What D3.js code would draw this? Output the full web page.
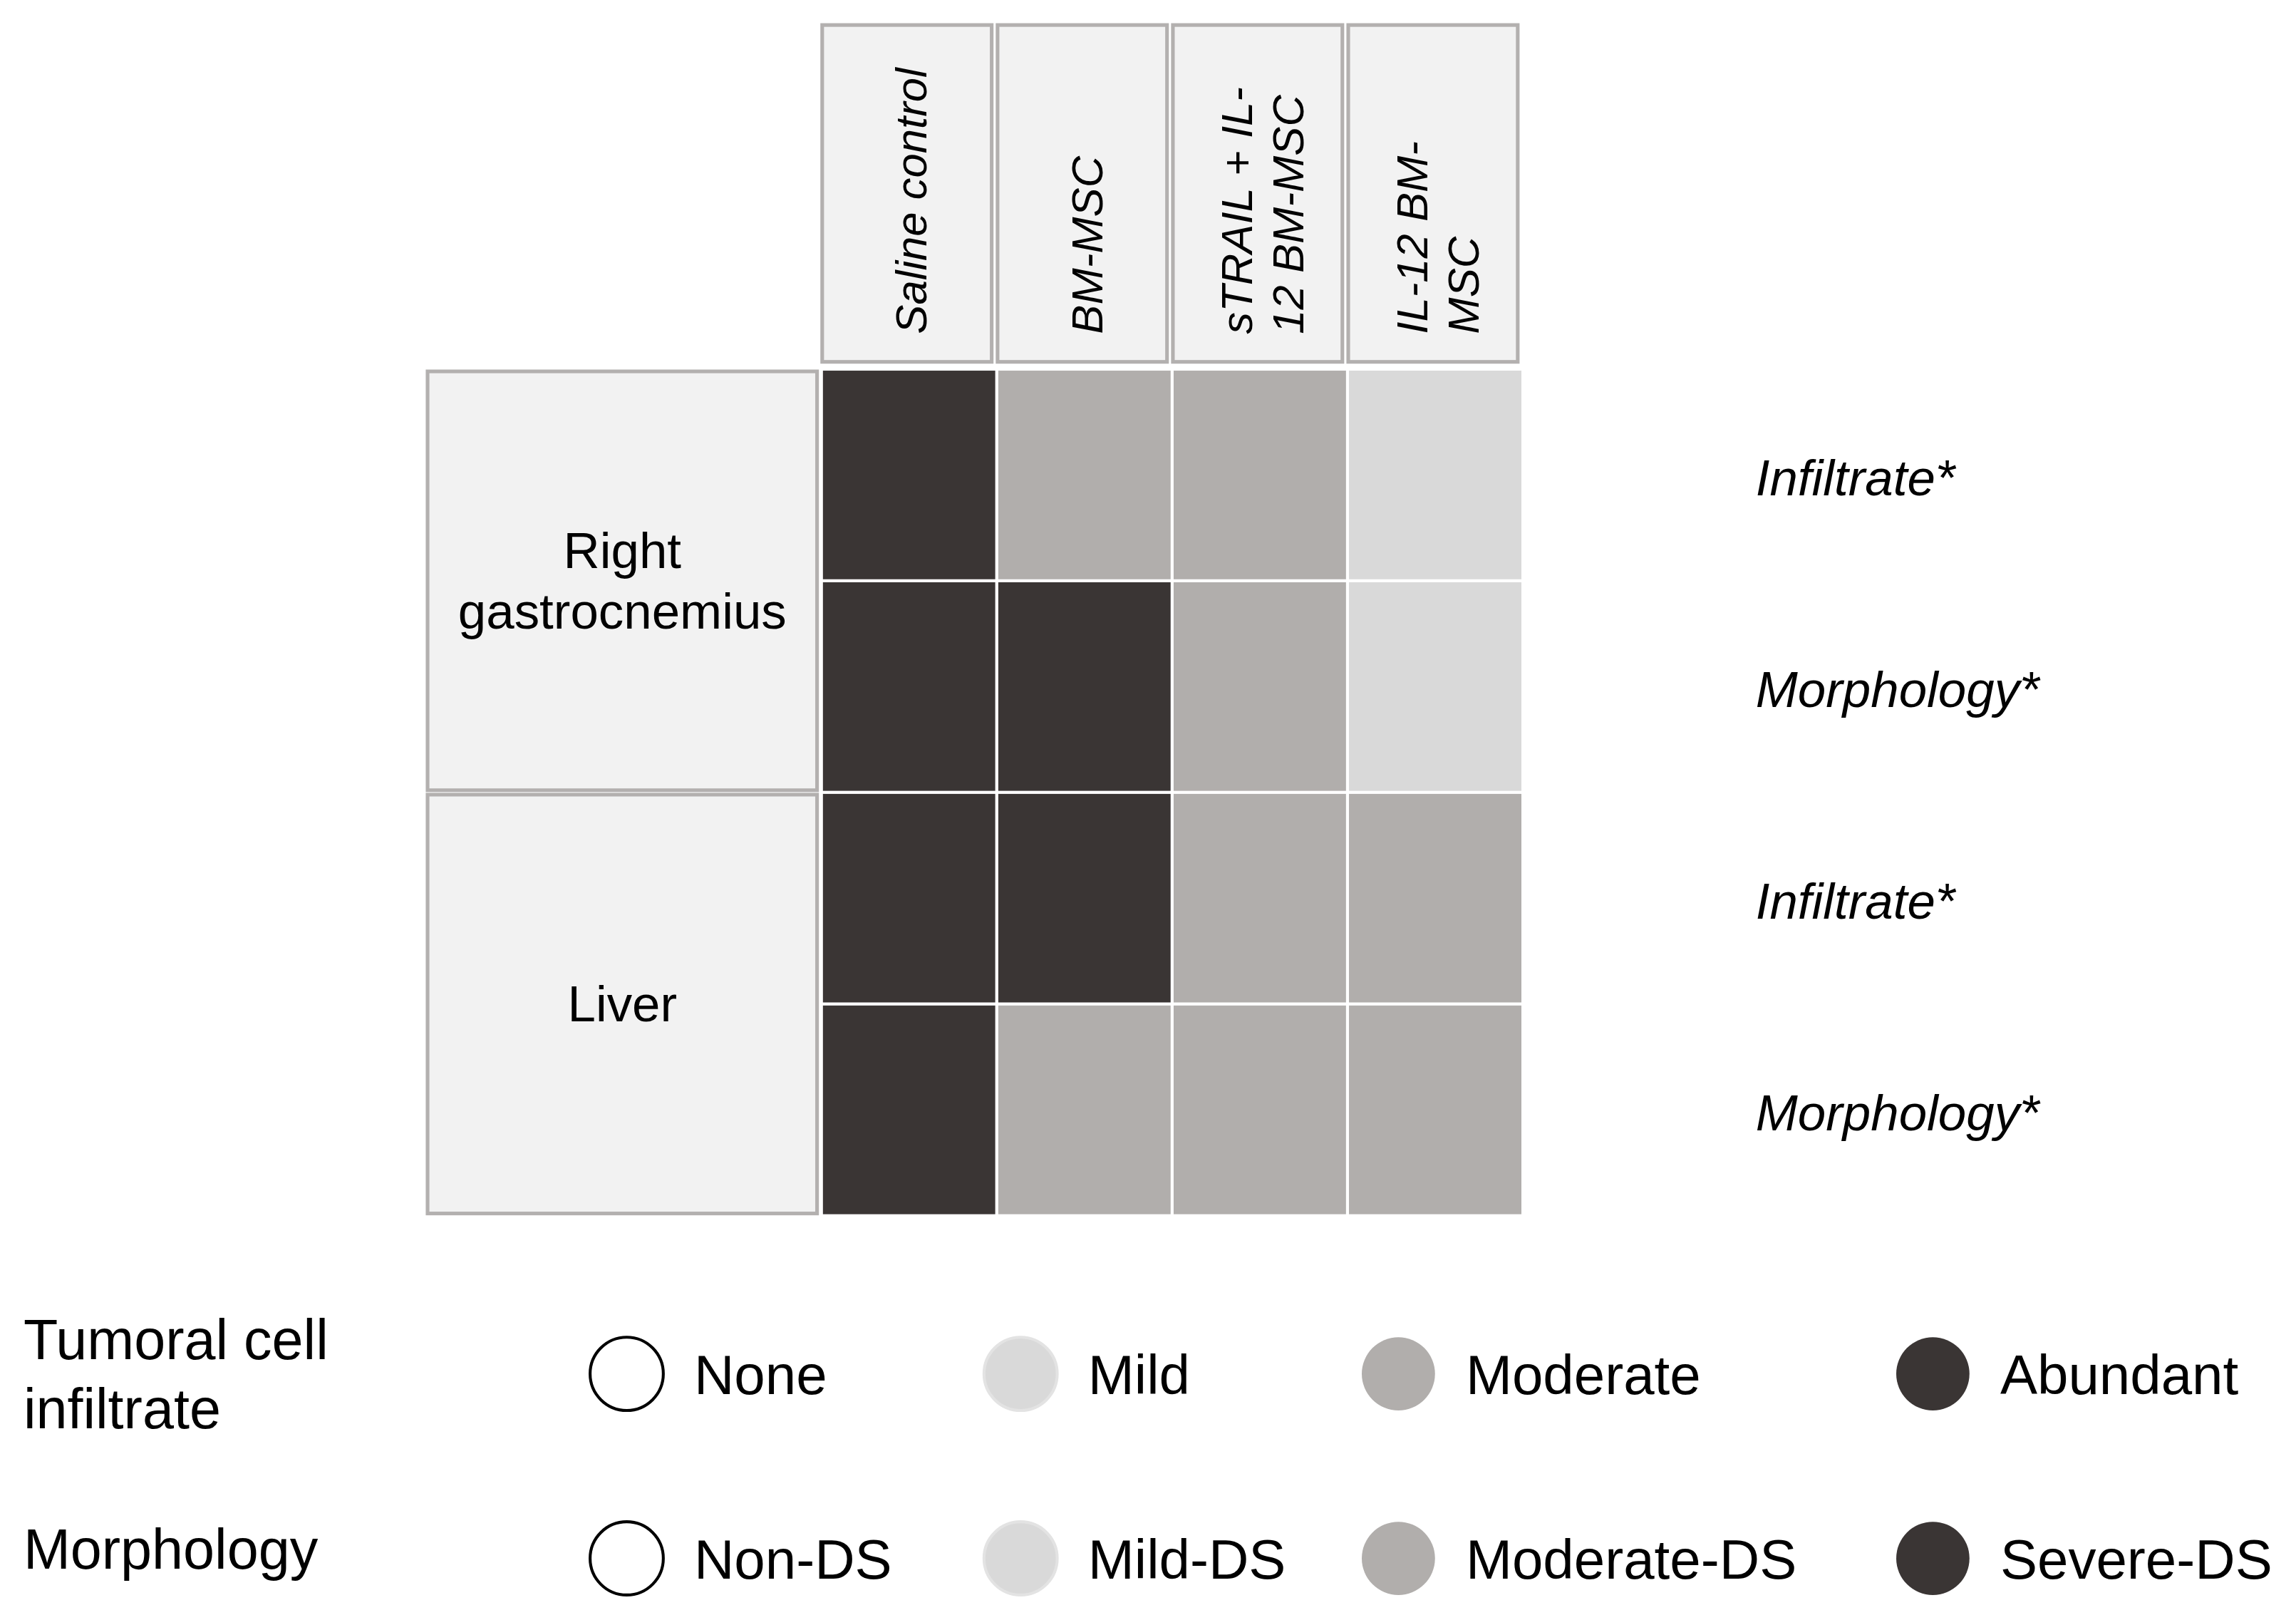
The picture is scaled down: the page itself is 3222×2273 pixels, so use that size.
<!DOCTYPE html>
<html>
<head>
<meta charset="utf-8">
<script src="https://cdn.jsdelivr.net/npm/d3@7"></script>
<style>
  body { margin: 0; background: #fff; }
  text { font-family: "Liberation Sans", Arial, sans-serif; fill: #000; }
</style>
</head>
<body>
<svg id="chart"></svg>
<script>
// groups (columns) and their header lines
var groups = ["Saline control", "BM-MSC", "sTRAIL + IL-12 BM-MSC", "IL-12 BM-MSC"];
var groupLines = [["Saline control"], ["BM-MSC"], ["sTRAIL + IL-", "12 BM-MSC"], ["IL-12 BM-", "MSC"]];

// tissues, each spans two rows
var tissues = ["Right gastrocnemius", "Liver"];
var tissueLines = [["Right", "gastrocnemius"], ["Liver"]];

// rows of the grid
var rowIds = ["rg_inf", "rg_mor", "lv_inf", "lv_mor"];
var rowLabels = ["Infiltrate*", "Morphology*", "Infiltrate*", "Morphology*"];

// score per row, per group (0 none .. 3 abundant / severe)
var rgInfiltrate = [3, 2, 2, 1];
var rgMorphology = [3, 3, 2, 1];
var liverInfiltrate = [3, 3, 2, 2];
var liverMorphology = [3, 2, 2, 2];

// legend
var levels = [0, 1, 2, 3];
var infiltrateLevels = ["None", "Mild", "Moderate", "Abundant"];
var morphologyLevels = ["Non-DS", "Mild-DS", "Moderate-DS", "Severe-DS"];

var scores = [rgInfiltrate, rgMorphology, liverInfiltrate, liverMorphology];

var W = 1568, H = 1106;
var svg = d3.select("#chart")
    .attr("width", 3222)
    .attr("height", 2273)
    .attr("viewBox", "0 0 " + W + " " + H);

var color = d3.scaleOrdinal()
    .domain(levels)
    .range(["#ffffff", "#d9d9d9", "#b1aeac", "#3a3534"]);

var x = d3.scaleBand().domain(groups).range([561, 1040]);
var y = d3.scaleBand().domain(rowIds).range([252, 830]);

// header boxes
var head = svg.append("g");
head.selectAll("rect")
    .data(groups)
    .enter().append("rect")
    .attr("x", function(d) { return x(d) + 0.5; })
    .attr("y", 17)
    .attr("width", x.bandwidth() - 4)
    .attr("height", 230)
    .style("fill", "#f2f2f2")
    .style("stroke", "#b3b0af")
    .style("stroke-width", 2.5);

groups.forEach(function(g, i) {
    var lines = groupLines[i];
    var cx = x(g) + x.bandwidth() / 2;
    var t = head.append("text")
        .attr("transform", "translate(" + cx + ",228) rotate(-90)")
        .style("font-size", "30px")
        .style("font-style", "italic");
    lines.forEach(function(l, j) {
        // baseline offset so the block sits centred in the column
        var off = 12 + (j - (lines.length - 1) / 2) * 35;
        t.append("tspan")
            .attr("x", 0)
            .attr("y", off)
            .text(l);
    });
});

// tissue boxes
var side = svg.append("g");
tissues.forEach(function(ts, i) {
    var y0 = y(rowIds[i * 2]);
    var y1 = y(rowIds[i * 2 + 1]) + y.bandwidth();
    side.append("rect")
        .attr("x", 292)
        .attr("y", y0 + 1.5)
        .attr("width", 266)
        .attr("height", y1 - y0 - 3)
        .style("fill", "#f2f2f2")
        .style("stroke", "#b3b0af")
        .style("stroke-width", 2.5);
    var lines = tissueLines[i];
    var cy = (y0 + y1) / 2;
    var t = side.append("text")
        .attr("text-anchor", "middle")
        .style("font-size", "34.5px");
    lines.forEach(function(l, j) {
        t.append("tspan")
            .attr("x", 425)
            .attr("y", cy + 12 + (j - (lines.length - 1) / 2) * 41)
            .text(l);
    });
});

// heatmap cells
var cells = [];
rowIds.forEach(function(r, i) {
    groups.forEach(function(g, j) {
        cells.push({row: r, group: g, value: scores[i][j]});
    });
});

svg.append("g").selectAll("rect")
    .data(cells)
    .enter().append("rect")
    .attr("x", function(d) { return x(d.group); })
    .attr("y", function(d) { return y(d.row); })
    .attr("width", x.bandwidth())
    .attr("height", y.bandwidth())
    .style("fill", function(d) { return color(d.value); })
    .style("stroke", "#ffffff")
    .style("stroke-width", 2);

// row labels on the right
svg.append("g").selectAll("text")
    .data(rowIds)
    .enter().append("text")
    .attr("x", 1199)
    .attr("y", function(d) { return y(d) + y.bandwidth() / 2 + 14; })
    .style("font-size", "34.5px")
    .style("font-style", "italic")
    .text(function(d, i) { return rowLabels[i]; });

// legend
var legX = d3.scaleOrdinal().domain(levels).range([428, 697, 955, 1320]);
var legRows = [
    {title: ["Tumoral cell", "infiltrate"], names: infiltrateLevels, cy: 938, ty: 928},
    {title: ["Morphology"], names: morphologyLevels, cy: 1064, ty: 1071}
];

var leg = svg.append("g");
legRows.forEach(function(row) {
    var t = leg.append("text").style("font-size", "38.5px");
    row.title.forEach(function(l, j) {
        t.append("tspan").attr("x", 16).attr("y", row.ty + j * 47).text(l);
    });
    var item = leg.append("g").selectAll("g")
        .data(levels)
        .enter().append("g");
    item.append("circle")
        .attr("cx", function(d) { return legX(d); })
        .attr("cy", row.cy)
        .attr("r", 25)
        .style("fill", function(d) { return color(d); })
        .style("stroke", function(d) { return d === 0 ? "#000" : d === 1 ? "#e3e3e3" : "none"; })
        .style("stroke-width", 2);
    item.append("text")
        .attr("x", function(d) { return legX(d) + 46; })
        .attr("y", row.cy + 14)
        .style("font-size", "38px")
        .text(function(d) { return row.names[d]; });
});
</script>
</body>
</html>
